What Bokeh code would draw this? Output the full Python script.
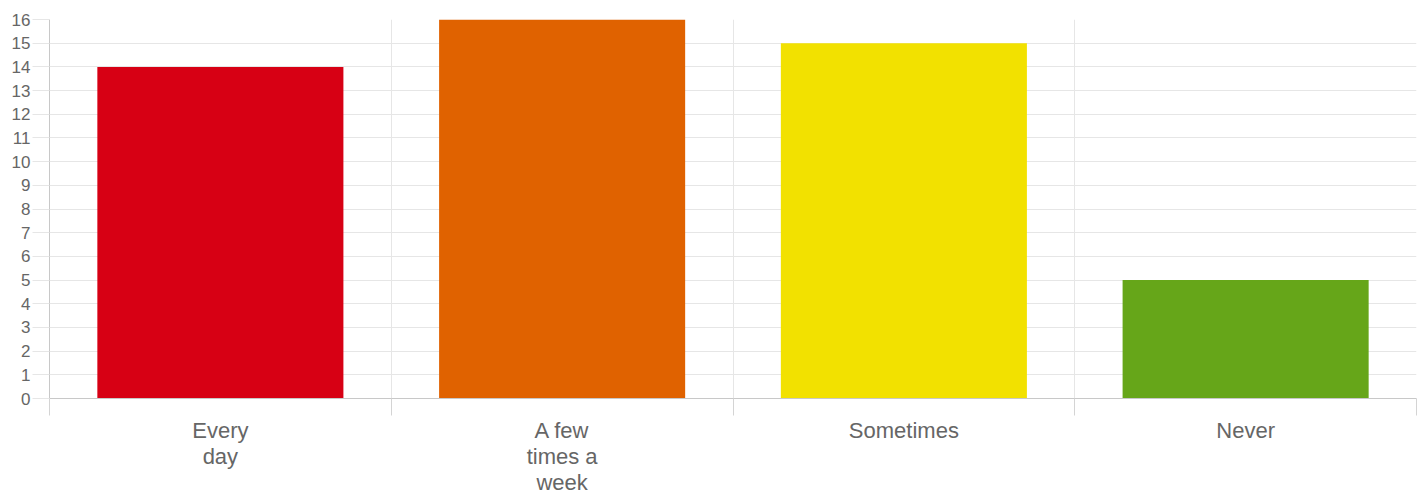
from bokeh.plotting import figure
from bokeh.models import FixedTicker, Range1d, ColumnDataSource
from bokeh.embed import file_html
from bokeh.resources import INLINE

categories = ["Every\nday", "A few\ntimes a\nweek", "Sometimes", "Never"]
values = [14, 16, 15, 5]
colors = ["#d70014", "#e06200", "#f2e100", "#66a619"]
y_ticks = list(range(0, 17))

xs = [i + 0.5 for i in range(len(categories))]
src = ColumnDataSource(dict(x=xs, top=values, color=colors))

p = figure(frame_width=1367, frame_height=379, output_backend="svg", toolbar_location=None,
           x_range=Range1d(0, len(categories)), y_range=Range1d(0, 16),
           min_border_left=49, min_border_right=3, min_border_top=19, min_border_bottom=5)
p.outline_line_color = None
p.background_fill_color = "white"

p.vbar(x="x", top="top", bottom=0, width=0.72, color="color", source=src, line_color=None)

# y axis
p.yaxis.ticker = FixedTicker(ticks=y_ticks)
p.yaxis.major_tick_out = 17
p.yaxis.major_tick_in = 0
p.yaxis.minor_tick_line_color = None
p.yaxis.major_tick_line_color = "#e6e6e6"
p.yaxis.axis_line_color = "#c8c8c8"
p.yaxis.major_label_standoff = 2
p.yaxis.major_label_text_font = "Liberation Sans"
p.yaxis.major_label_text_font_size = "17px"
p.yaxis.major_label_text_color = "#666666"
p.ygrid.grid_line_color = "#e6e6e6"
p.ygrid.ticker = FixedTicker(ticks=y_ticks)

# x axis
p.xaxis.ticker = FixedTicker(ticks=xs, minor_ticks=list(range(len(categories) + 1)))
p.xaxis.major_label_overrides = {x: c for x, c in zip(xs, categories)}
p.xaxis.major_tick_line_color = None
p.xaxis.major_tick_out = 0
p.xaxis.major_tick_in = 0
p.xaxis.minor_tick_out = 17
p.xaxis.minor_tick_in = 0
p.xaxis.minor_tick_line_color = "#d4d4d4"
p.xaxis.axis_line_color = "#c8c8c8"
p.xaxis.major_label_standoff = 2
p.xaxis.major_label_text_font = "Liberation Sans"
p.xaxis.major_label_text_font_size = "22px"
p.xaxis.major_label_text_color = "#666666"
p.xaxis.major_label_text_line_height = 1.04
p.xgrid.ticker = FixedTicker(ticks=list(range(len(categories) + 1)))
p.xgrid.grid_line_color = "#e6e6e6"

open("out.html", "w").write(file_html(p, INLINE))
